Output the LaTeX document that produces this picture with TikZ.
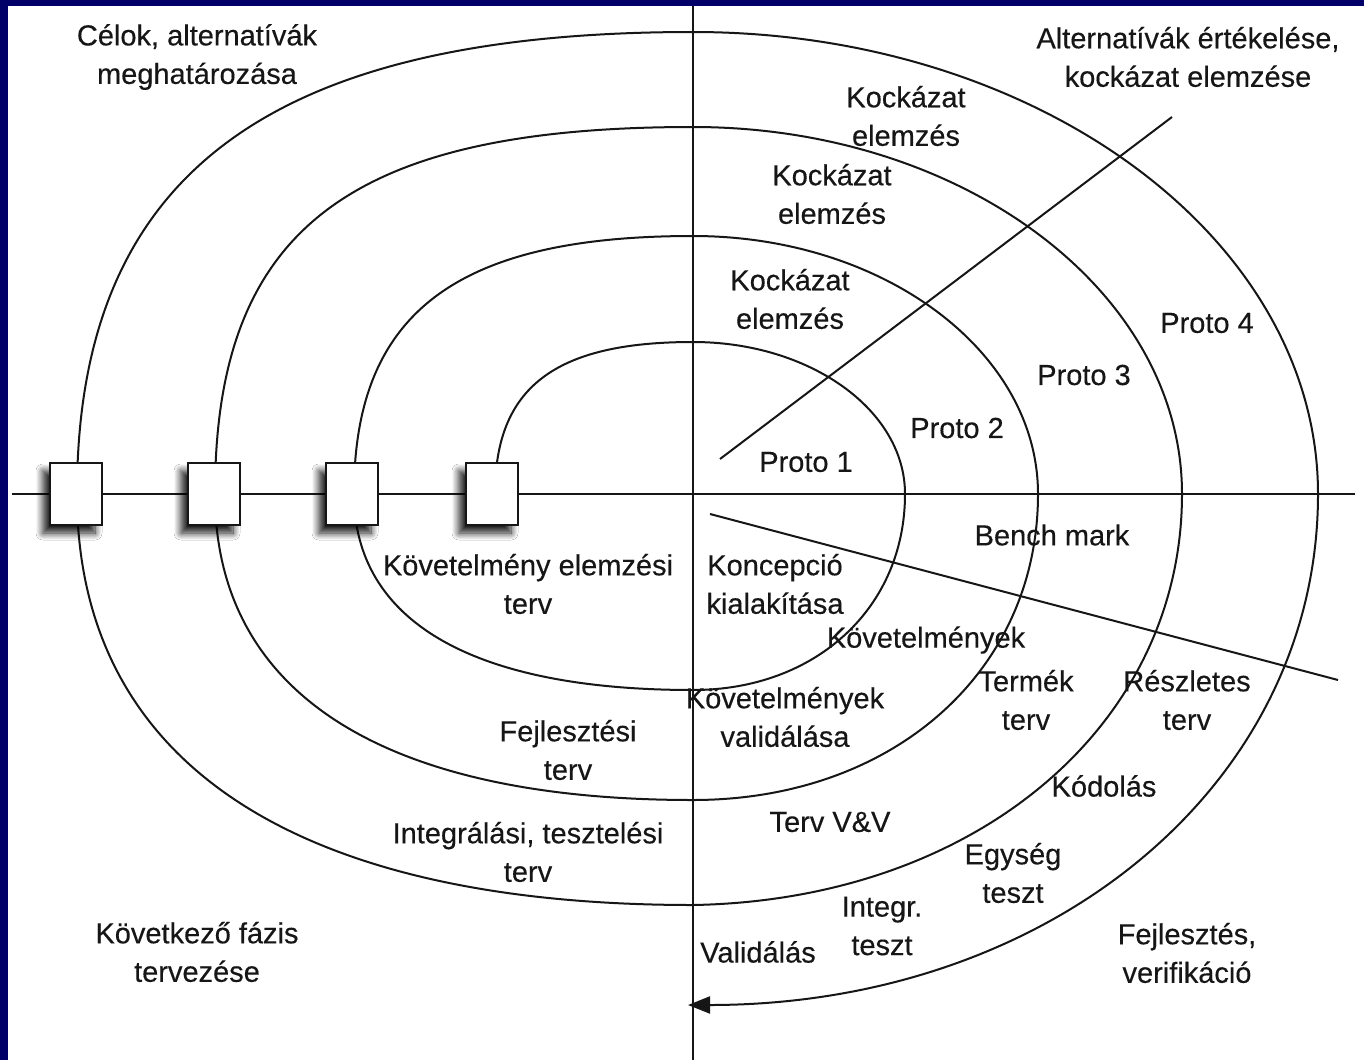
\documentclass[tikz,border=0pt]{standalone}
\usepackage{fontspec}
\setmainfont{Liberation Sans}[FakeBold=0.3]
\usetikzlibrary{arrows.meta,shadows.blur}
\definecolor{frame}{RGB}{0,0,104}
\definecolor{ink}{RGB}{22,22,22}

\begin{document}
\begin{tikzpicture}[x=1pt,y=-1pt,
  curve/.style={line width=2pt, draw=ink, line join=round},
  axis/.style={line width=2pt, draw=ink},
  gate/.style={draw=ink, line width=2pt, fill=white, minimum width=52pt,
    minimum height=62pt, inner sep=0pt,
    blur shadow={shadow xshift=-7pt, shadow yshift=-8pt,
      shadow blur radius=7pt, shadow blur steps=12, shadow opacity=90}},
  lbl/.style={text=ink, align=center, inner sep=0pt,
    font=\fontsize{29}{38.5}\selectfont}
]
% page, with the dark band along the top and left edges
\useasboundingbox (0,0) rectangle (1364,1060);
\fill[white] (0,0) rectangle (1364,1060);
\fill[frame] (0,0) rectangle (1364,6);
\fill[frame] (0,0) rectangle (8,1060);

% quadrant axes
\coordinate (vtop) at (693,6);
\coordinate (vbot) at (693,1060);
\coordinate (hleft) at (12,494);
\coordinate (hright) at (1355,494);
\draw[axis] (vtop) -- (vbot);
\draw[axis] (hleft) -- (hright);

% the spiral, one quarter turn per Bezier segment, ending in an arrow
\coordinate (start) at (495,494);
\coordinate (finish) at (688,1005);
\draw[curve, -{Triangle[length=22pt,width=17pt]}] (start)
  .. controls (495,387.6) and (554.4,342) .. (693,342)
  .. controls (810.1,342) and (905,410.1) .. (905,494)
  .. controls (905,607.7) and (816,690) .. (693,690)
  .. controls (472.7,690) and (354,621.4) .. (354,494)
  .. controls (354,313.4) and (455.7,236) .. (693,236)
  .. controls (883.5,236) and (1038,351.5) .. (1038,494)
  .. controls (1038,671.5) and (893.1,800) .. (693,800)
  .. controls (382.3,800) and (215,692.9) .. (215,494)
  .. controls (215,229.8) and (348.8,127) .. (693,127)
  .. controls (963.1,127) and (1182,291.3) .. (1182,494)
  .. controls (1182,725) and (976.6,900) .. (693,905)
  .. controls (292.6,905) and (77,761.2) .. (77,494)
  .. controls (77,175.2) and (268,32) .. (693,32)
  .. controls (1038.2,32) and (1318,238.8) .. (1318,494)
  .. controls (1318,785) and (1050,1005) .. (finish);

% sector dividers
\coordinate (d1a) at (720,459);
\coordinate (d1b) at (1172,117);
\coordinate (d2a) at (710,514);
\coordinate (d2b) at (1338,680);
\draw[axis] (d1a) -- (d1b);
\draw[axis] (d2a) -- (d2b);

% review gates on the horizontal axis
\node[gate] (g1) at (76,494) {};
\node[gate] (g2) at (214,494) {};
\node[gate] (g3) at (352,494) {};
\node[gate] (g4) at (492,494) {};

% quadrant titles
\node[lbl] (goals)  at (197,57)   {Célok, alternatívák\\meghatározása};
\node[lbl] (assess) at (1188,57)  {Alternatívák értékelése,\\kockázat elemzése};
\node[lbl] (next)   at (197,952)  {Következő fázis\\tervezése};
\node[lbl] (devver) at (1187,953) {Fejlesztés,\\verifikáció};

% risk analysis and prototypes
\node[lbl] (risk1) at (906,116) {Kockázat\\elemzés};
\node[lbl] (risk2) at (832,194) {Kockázat\\elemzés};
\node[lbl] (risk3) at (790,299) {Kockázat\\elemzés};
\node[lbl] (proto1) at (806,462)  {Proto 1};
\node[lbl] (proto2) at (957,428)  {Proto 2};
\node[lbl] (proto3) at (1084,375) {Proto 3};
\node[lbl] (proto4) at (1207,323) {Proto 4};
\node[lbl] (bench)  at (1052,535) {Bench mark};

% development steps
\node[lbl] (concept) at (775,584)  {Koncepció\\kialakítása};
\node[lbl] (req)     at (926,640)  {Követelmények};
\node[lbl] (reqval)  at (785,717)  {Követelmények\\validálása};
\node[lbl] (prod)    at (1026,700) {Termék\\terv};
\node[lbl] (detail)  at (1187,700) {Részletes\\terv};
\node[lbl] (code)    at (1104,786) {Kódolás};
\node[lbl] (vv)      at (830,822)  {Terv V\&V};
\node[lbl] (unit)    at (1013,873) {Egység\\teszt};
\node[lbl] (integ)   at (882,926)  {Integr.\\teszt};
\node[lbl] (valid)   at (758,952)  {Validálás};

% planning steps
\node[lbl] (reqplan) at (528,584) {Követelmény elemzési\\terv};
\node[lbl] (devplan) at (568,750) {Fejlesztési\\terv};
\node[lbl] (intplan) at (528,852) {Integrálási, tesztelési\\terv};
\end{tikzpicture}
\end{document}
